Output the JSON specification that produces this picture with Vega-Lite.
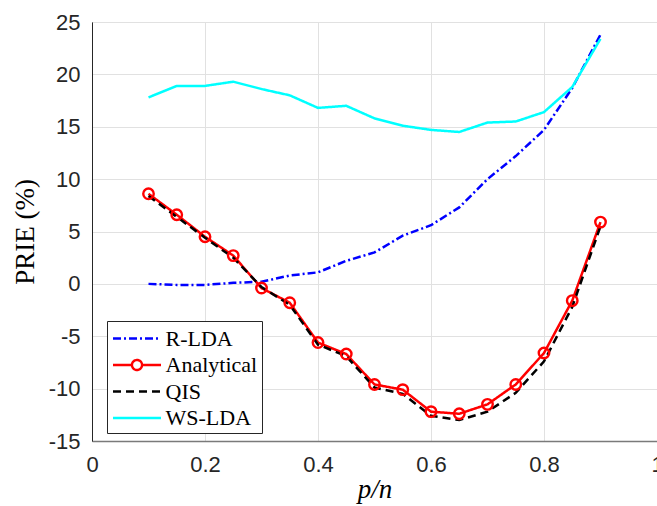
{
  "$schema": "https://vega.github.io/schema/vega-lite/v6.json",
  "width": 565,
  "height": 419,
  "autosize": "none",
  "padding": {"left": 92, "top": 22, "right": 0, "bottom": 65},
  "background": "#ffffff",
  "config": {
    "view": {"stroke": "#262626", "strokeWidth": 1},
    "axis": {
      "labelFont": "Liberation Sans",
      "labelFontSize": 22,
      "labelColor": "#262626",
      "labelFlush": false,
      "domainColor": "#262626",
      "tickColor": "#262626",
      "gridColor": "#e1e1e1",
      "titleFont": "Liberation Serif",
      "titleFontWeight": "normal",
      "titleColor": "#000000",
      "titleFontSize": 27,
      "tickSize": 0
    },
    "legend": {
      "title": null, "orient": "none", "legendX": 15, "legendY": 299,
      "labelFont": "Liberation Serif", "labelFontSize": 22, "labelColor": "#000000",
      "symbolSize": 576, "symbolStrokeWidth": 2.4, "symbolOpacity": 1,
      "symbolOffset": 12.5,
      "strokeColor": "#262626", "fillColor": "#ffffff", "padding": 4,
      "rowPadding": 1.5, "labelOffset": 15, "labelLimit": 300,
      "labelBaseline": "middle"
    }
  },
  "data": {
    "values": [
      {"series": "R-LDA", "x": 0.1, "y": 0.0},
      {"series": "R-LDA", "x": 0.15, "y": -0.1},
      {"series": "R-LDA", "x": 0.2, "y": -0.1},
      {"series": "R-LDA", "x": 0.25, "y": 0.1},
      {"series": "R-LDA", "x": 0.3, "y": 0.2},
      {"series": "R-LDA", "x": 0.35, "y": 0.8},
      {"series": "R-LDA", "x": 0.4, "y": 1.1},
      {"series": "R-LDA", "x": 0.45, "y": 2.2},
      {"series": "R-LDA", "x": 0.5, "y": 3.0},
      {"series": "R-LDA", "x": 0.55, "y": 4.6},
      {"series": "R-LDA", "x": 0.6, "y": 5.6},
      {"series": "R-LDA", "x": 0.65, "y": 7.3},
      {"series": "R-LDA", "x": 0.7, "y": 10.0},
      {"series": "R-LDA", "x": 0.75, "y": 12.2},
      {"series": "R-LDA", "x": 0.8, "y": 14.7},
      {"series": "R-LDA", "x": 0.85, "y": 18.7},
      {"series": "R-LDA", "x": 0.9, "y": 23.8},
      {"series": "Analytical", "x": 0.1, "y": 8.6},
      {"series": "Analytical", "x": 0.15, "y": 6.6},
      {"series": "Analytical", "x": 0.2, "y": 4.5},
      {"series": "Analytical", "x": 0.25, "y": 2.7},
      {"series": "Analytical", "x": 0.3, "y": -0.4},
      {"series": "Analytical", "x": 0.35, "y": -1.8},
      {"series": "Analytical", "x": 0.4, "y": -5.6},
      {"series": "Analytical", "x": 0.45, "y": -6.7},
      {"series": "Analytical", "x": 0.5, "y": -9.6},
      {"series": "Analytical", "x": 0.55, "y": -10.1},
      {"series": "Analytical", "x": 0.6, "y": -12.2},
      {"series": "Analytical", "x": 0.65, "y": -12.4},
      {"series": "Analytical", "x": 0.7, "y": -11.5},
      {"series": "Analytical", "x": 0.75, "y": -9.6},
      {"series": "Analytical", "x": 0.8, "y": -6.6},
      {"series": "Analytical", "x": 0.85, "y": -1.6},
      {"series": "Analytical", "x": 0.9, "y": 5.9},
      {"series": "QIS", "x": 0.1, "y": 8.4},
      {"series": "QIS", "x": 0.15, "y": 6.4},
      {"series": "QIS", "x": 0.2, "y": 4.4},
      {"series": "QIS", "x": 0.25, "y": 2.5},
      {"series": "QIS", "x": 0.3, "y": -0.3},
      {"series": "QIS", "x": 0.35, "y": -2.0},
      {"series": "QIS", "x": 0.4, "y": -5.8},
      {"series": "QIS", "x": 0.45, "y": -6.9},
      {"series": "QIS", "x": 0.5, "y": -9.9},
      {"series": "QIS", "x": 0.55, "y": -10.5},
      {"series": "QIS", "x": 0.6, "y": -12.6},
      {"series": "QIS", "x": 0.65, "y": -13.0},
      {"series": "QIS", "x": 0.7, "y": -12.2},
      {"series": "QIS", "x": 0.75, "y": -10.4},
      {"series": "QIS", "x": 0.8, "y": -7.4},
      {"series": "QIS", "x": 0.85, "y": -2.2},
      {"series": "QIS", "x": 0.9, "y": 5.5},
      {"series": "WS-LDA", "x": 0.1, "y": 17.8},
      {"series": "WS-LDA", "x": 0.15, "y": 18.9},
      {"series": "WS-LDA", "x": 0.2, "y": 18.9},
      {"series": "WS-LDA", "x": 0.25, "y": 19.3},
      {"series": "WS-LDA", "x": 0.3, "y": 18.6},
      {"series": "WS-LDA", "x": 0.35, "y": 18.0},
      {"series": "WS-LDA", "x": 0.4, "y": 16.8},
      {"series": "WS-LDA", "x": 0.45, "y": 17.0},
      {"series": "WS-LDA", "x": 0.5, "y": 15.8},
      {"series": "WS-LDA", "x": 0.55, "y": 15.1},
      {"series": "WS-LDA", "x": 0.6, "y": 14.7},
      {"series": "WS-LDA", "x": 0.65, "y": 14.5},
      {"series": "WS-LDA", "x": 0.7, "y": 15.4},
      {"series": "WS-LDA", "x": 0.75, "y": 15.5},
      {"series": "WS-LDA", "x": 0.8, "y": 16.4},
      {"series": "WS-LDA", "x": 0.85, "y": 18.8},
      {"series": "WS-LDA", "x": 0.9, "y": 23.4}
    ]
  },
  "encoding": {
    "x": {
      "field": "x", "type": "quantitative",
      "scale": {"domain": [0, 1], "nice": false, "zero": false},
      "axis": {
        "title": "p/n", "titleFontStyle": "italic",
        "values": [0, 0.2, 0.4, 0.6, 0.8, 1],
        "labelExpr": "toString(datum.value)",
        "labelPadding": 13,
        "domainColor": "#7a7a7a", "domainWidth": 1.5,
        "titleX": 282.5, "titleY": 56, "titleBaseline": "alphabetic", "titleAlign": "center"
      }
    },
    "y": {
      "field": "y", "type": "quantitative",
      "scale": {"domain": [-15, 25], "nice": false, "zero": false},
      "axis": {
        "title": "PRIE (%)",
        "values": [-15, -10, -5, 0, 5, 10, 15, 20, 25],
        "labelExpr": "toString(datum.value)",
        "labelPadding": 12,
        "titleX": -67, "titleY": 209.5, "titleAlign": "center", "titleBaseline": "middle", "titleAngle": -90
      }
    }
  },
  "layer": [
    {
      "mark": {"type": "line", "strokeWidth": 2.5},
      "encoding": {
        "color": {
          "field": "series", "type": "nominal",
          "scale": {"domain": ["R-LDA", "Analytical", "QIS", "WS-LDA"], "range": ["#0000ff", "#ff0000", "#000000", "#00ffff"]}
        },
        "strokeDash": {
          "field": "series", "type": "nominal",
          "scale": {"domain": ["R-LDA", "Analytical", "QIS", "WS-LDA"], "range": [[8, 3, 2, 3], [1, 0], [8, 5], [1, 0]]}
        }
      }
    },
    {
      "transform": [{"filter": "datum.series === 'Analytical'"}],
      "mark": {"type": "point", "shape": "circle", "filled": false, "size": 110, "strokeWidth": 2.4, "color": "#ff0000", "opacity": 1},
      "encoding": {}
    },
    {
      "mark": {"type": "point", "filled": false, "strokeWidth": 2.4, "strokeOpacity": 0},
      "encoding": {
        "color": {
          "field": "series", "type": "nominal",
          "scale": {"domain": ["R-LDA", "Analytical", "QIS", "WS-LDA"], "range": ["#0000ff", "#ff0000", "#000000", "#00ffff"]},
          "legend": {
            "labelFont": "Liberation Serif",
            "encode": {"labels": {"update": {"font": {"value": "Liberation Serif"}}}}
          }
        },
        "shape": {
          "field": "series", "type": "nominal",
          "scale": {"domain": ["R-LDA", "Analytical", "QIS", "WS-LDA"], "range": ["M-2,0L2,0", "M-2,0L-0.42,0M0.42,0L2,0M0.42,0A0.42,0.42 0 1,1 -0.42,0A0.42,0.42 0 1,1 0.42,0", "M-2,0L2,0", "M-2,0L2,0"]}
        },
        "strokeDash": {
          "field": "series", "type": "nominal",
          "scale": {"domain": ["R-LDA", "Analytical", "QIS", "WS-LDA"], "range": [[8, 3, 2, 3], [1, 0], [8, 5], [1, 0]]}
        }
      }
    }
  ]
}
